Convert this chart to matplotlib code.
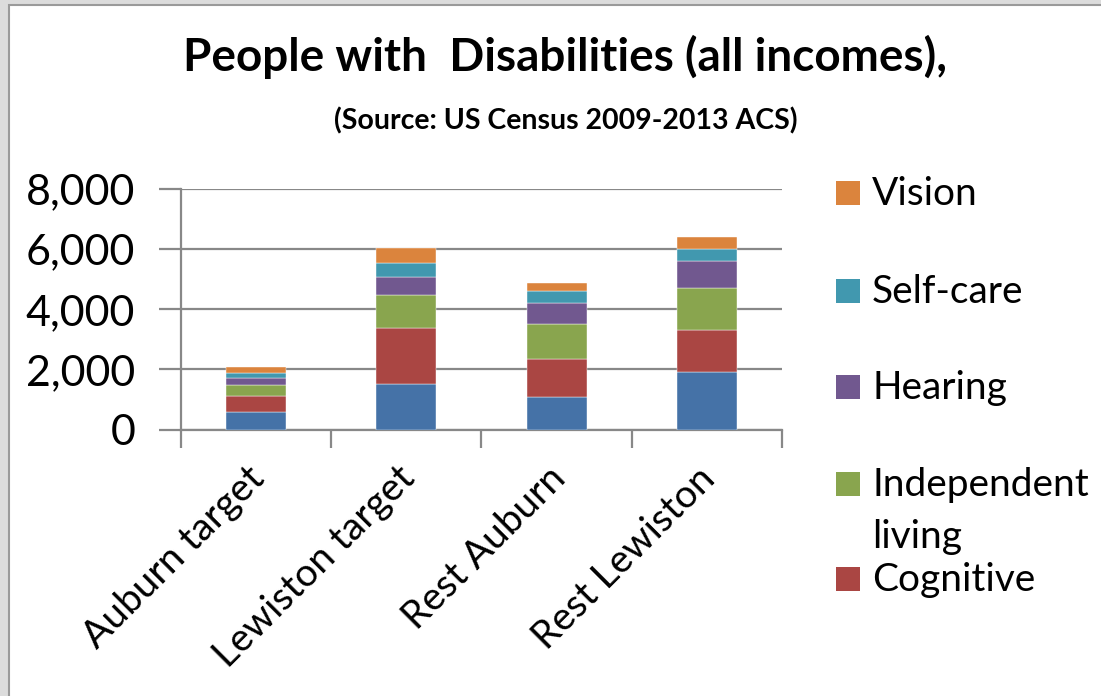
import matplotlib
matplotlib.use("Agg")
import matplotlib.pyplot as plt
from matplotlib.patches import Rectangle
import matplotlib.transforms as mtransforms
import numpy as np

categories = ["Auburn target", "Lewiston target", "Rest Auburn", "Rest Lewiston"]
series_names = ["Ambulatory", "Cognitive", "Independent living", "Hearing", "Self-care", "Vision"]
ambulatory = [570, 1500, 1090, 1900]
cognitive = [530, 1890, 1265, 1420]
independent_living = [380, 1090, 1165, 1380]
hearing = [230, 580, 680, 920]
self_care = [180, 470, 410, 400]
vision = [180, 520, 265, 390]
colors = ["#4572A7", "#AA4643", "#89A54E", "#71588F", "#4198AF", "#DB843D"]
legend_labels = ["Vision", "Self-care", "Hearing", "Independent\nliving", "Cognitive"]
legend_colors = ["#DB843D", "#4198AF", "#71588F", "#89A54E", "#AA4643"]
yticks = [0, 2000, 4000, 6000, 8000]

FONT = "Lato"
W, H = 1101, 696
fig = plt.figure(figsize=(W / 100, H / 100), dpi=100, facecolor="#DCDCDC")
fig.patches.append(Rectangle((9 / W, -0.1), 1.2, (H - 5) / H + 0.1, transform=fig.transFigure,
                             facecolor="white", edgecolor="#9A9A9A", linewidth=1.5, zorder=-5))

ax = fig.add_axes([181 / W, (H - 429.5) / H, (782 - 181) / W, (429.5 - 189) / H])
ax.set_facecolor("none")
data = [ambulatory, cognitive, independent_living, hearing, self_care, vision]
x = np.arange(len(categories))
bottom = np.zeros(len(categories))
for vals, c, name in zip(data, colors, series_names):
    ax.bar(x, vals, width=0.4, bottom=bottom, color=c, edgecolor="white", linewidth=0.3,
           label=name, zorder=3)
    bottom += np.array(vals)

ax.set_xlim(-0.5, 3.5)
ax.set_ylim(0, 8000)
ax.set_yticks(yticks)
ax.set_yticklabels([f"{v:,}" for v in yticks], fontsize=31, family=FONT)
ax.yaxis.grid(True, color="#888888", linewidth=1.6, zorder=1)
ax.tick_params(axis="y", length=16, width=1.6, color="#888888", pad=17)
ax.set_xticks(np.arange(-0.5, 4, 1))
ax.set_xticklabels([])
ax.tick_params(axis="x", length=13, width=1.6, color="#888888")
ax.set_xticks(x, minor=True)
ax.set_xticklabels(categories, minor=True, rotation=45, ha="right", va="top",
                   rotation_mode="anchor", fontsize=28, family=FONT)
ax.tick_params(axis="x", which="minor", length=0, pad=22)
offset = mtransforms.ScaledTranslation(-10 / 100, 0, fig.dpi_scale_trans)
for lbl in ax.get_xticklabels(minor=True):
    lbl.set_transform(lbl.get_transform() + offset)
for s in ["top", "right"]:
    ax.spines[s].set_visible(False)
ax.spines["left"].set_color("#888888")
ax.spines["left"].set_linewidth(1.6)
ax.spines["bottom"].set_color("#888888")
ax.spines["bottom"].set_linewidth(1.6)

fig.text(565 / W, 1 - 57 / H, "People with  Disabilities (all incomes),", ha="center", va="center",
         fontsize=33, fontweight="bold", family=FONT)
fig.text(566 / W, 1 - 121 / H, "(Source: US Census 2009-2013 ACS)", ha="center", va="center",
         fontsize=20.5, fontweight="bold", family=FONT)

ys = [193, 291, 387, 484, 579]
for lab, c, yy in zip(legend_labels, legend_colors, ys):
    fig.patches.append(Rectangle((836 / W, 1 - (yy + 12) / H), 24 / W, 24 / H,
                                 transform=fig.transFigure, facecolor=c, edgecolor="none"))
    lines = lab.split("\n")
    for i, line in enumerate(lines):
        fig.text(872 / W, 1 - (yy + 1 + 52 * i) / H, line, ha="left", va="center",
                 fontsize=28, family=FONT)

fig.savefig("out.png", dpi=100, facecolor=fig.get_facecolor())
